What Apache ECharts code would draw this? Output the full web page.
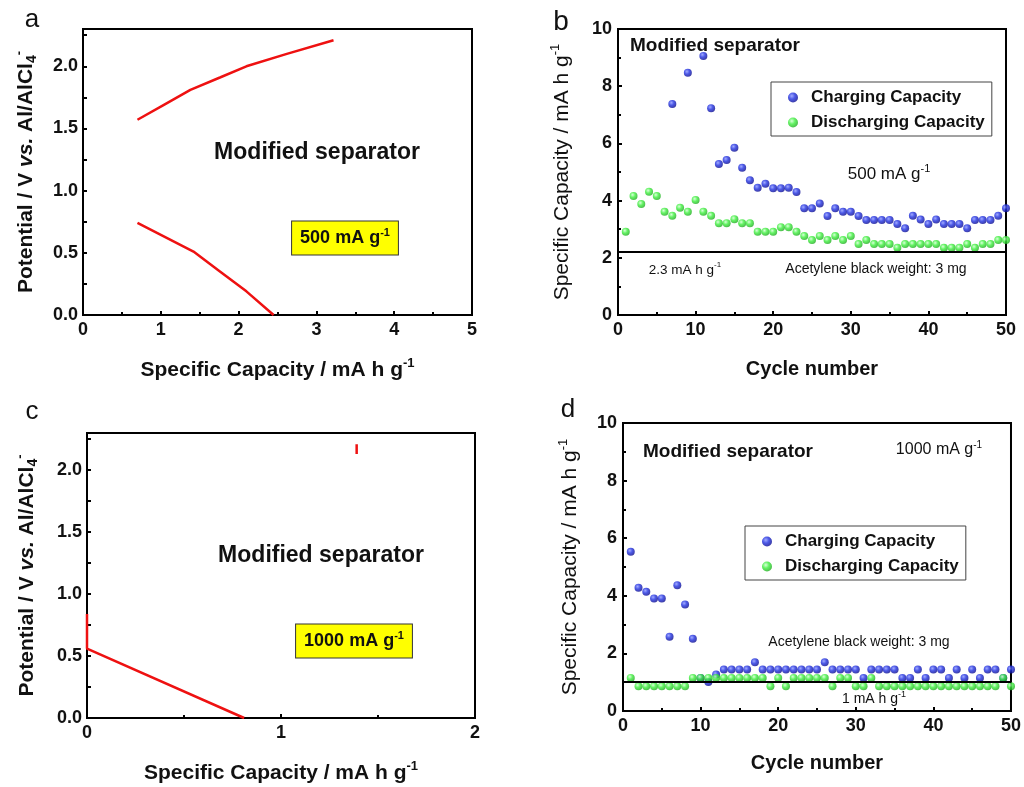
<!DOCTYPE html>
<html><head><meta charset="utf-8">
<script src="https://cdn.jsdelivr.net/npm/echarts@6/dist/echarts.min.js"></script>
<style>html,body{margin:0;padding:0;background:#fff}#c{width:1024px;height:787px}</style>
</head><body><div id="c"></div>
<script>
// ---- data ----
const chargeA = [[0.70,1.57],[1.04,1.69],[1.38,1.81],[1.76,1.91],[2.10,2.00],[2.62,2.10],[3.22,2.21]];
const dischargeA = [[0.70,0.74],[1.42,0.51],[1.76,0.35],[2.10,0.19],[2.45,0.00]];
const chargeC = [[1.39,2.21],[1.39,2.13]];
const dischargeC = [[0.00,0.84],[0.00,0.56],[0.81,0.00]];
const cycles = [1,2,3,4,5,6,7,8,9,10,11,12,13,14,15,16,17,18,19,20,21,22,23,24,25,26,27,28,29,30,31,32,33,34,35,36,37,38,39,40,41,42,43,44,45,46,47,48,49,50];
const chargeB = [null,null,null,null,null,null,7.38,null,8.47,null,9.06,7.23,5.28,5.42,5.85,5.15,4.71,4.45,4.59,4.43,4.43,4.45,4.30,3.73,3.73,3.90,3.46,3.73,3.61,3.61,3.46,3.32,3.32,3.32,3.32,3.18,3.03,3.47,3.34,3.18,3.34,3.18,3.18,3.18,3.03,3.32,3.32,3.32,3.47,3.73];
const dischargeB = [2.91,4.16,3.88,4.31,4.16,3.61,3.47,3.75,3.61,4.02,3.61,3.47,3.21,3.21,3.35,3.21,3.21,2.91,2.91,2.91,3.07,3.07,2.91,2.76,2.62,2.76,2.62,2.76,2.62,2.76,2.48,2.62,2.48,2.48,2.48,2.35,2.48,2.48,2.48,2.48,2.48,2.35,2.35,2.35,2.48,2.35,2.48,2.48,2.62,2.62];
const chargeD = [5.53,4.28,4.14,3.91,3.91,2.58,4.37,3.70,2.51,1.15,1.01,1.27,1.44,1.44,1.44,1.44,1.69,1.44,1.44,1.44,1.44,1.44,1.44,1.44,1.44,1.69,1.44,1.44,1.44,1.44,1.15,1.44,1.44,1.44,1.44,1.15,1.15,1.44,1.15,1.44,1.44,1.15,1.44,1.15,1.44,1.15,1.44,1.44,1.15,1.44];
const dischargeD = [1.15,0.86,0.86,0.86,0.86,0.86,0.86,0.86,1.15,1.15,1.15,1.15,1.15,1.15,1.15,1.15,1.15,1.15,0.86,1.15,0.86,1.15,1.15,1.15,1.15,1.15,0.86,1.15,1.15,0.86,0.86,1.15,0.86,0.86,0.86,0.86,0.86,0.86,0.86,0.86,0.86,0.86,0.86,0.86,0.86,0.86,0.86,0.86,1.15,0.86];
const refB = 2.2;
const refD = 1.0;
const legendNames = ['Charging Capacity','Discharging Capacity'];

// ---- chart ----
const FF = '"Liberation Sans", Arial, sans-serif';
const chart = echarts.init(document.getElementById('c'));
const pair = (xs, ys) => xs.map((x,i)=>[x, ys[i]]);

const blue = {type:'radial',x:0.38,y:0.35,r:0.7,colorStops:[{offset:0,color:'#8a95ff'},{offset:0.45,color:'#1f2fe0'},{offset:1,color:'#0a0a8a'}]};
const green = {type:'radial',x:0.38,y:0.35,r:0.7,colorStops:[{offset:0,color:'#d0ffd0'},{offset:0.45,color:'#3ef03e'},{offset:1,color:'#1ea81e'}]};

const nameStyle = (bold, size) => ({fontSize:size,fontWeight:bold?'bold':'normal',fontFamily:FF,color:'#111',lineHeight:size+5,
  rich:{sup:{fontSize:Math.round(size*0.6),fontWeight:bold?'bold':'normal',fontFamily:FF,verticalAlign:'top',lineHeight:size+5,color:'#111'},
        sub:{fontSize:Math.round(size*0.65),fontWeight:'bold',fontFamily:FF,verticalAlign:'bottom',lineHeight:size+5,color:'#111'},
        i:{fontSize:size,fontWeight:'bold',fontStyle:'italic',fontFamily:FF,lineHeight:size+5,color:'#111'}}});

const lbl = {fontSize:18,fontWeight:'bold',fontFamily:FF,color:'#111'};
const axLine = {show:true,onZero:false,lineStyle:{color:'#000',width:2}};
const tick = {show:true,inside:true,length:4,lineStyle:{color:'#000',width:2}};
const minor = {show:true,splitNumber:2,length:3,lineStyle:{color:'#000',width:2}};

function potentialY(idx, gap){
  return {type:'value',gridIndex:idx,min:0,max:2.3,interval:0.25,axisLine:axLine,axisTick:tick,splitLine:{show:false},
    axisLabel:{...lbl,margin:5,formatter:v=>{const k=Math.round(v*100);return (k%50===0)?(k/100).toFixed(1):'';}},
    name:'Potential / V {i|vs.} Al/AlCl{sub|4}{sup|-}',nameLocation:'middle',nameGap:gap,nameTextStyle:nameStyle(true,21)};
}
function capX(idx, max){
  return {type:'value',gridIndex:idx,min:0,max:max,interval:1,axisLine:axLine,axisTick:tick,minorTick:minor,splitLine:{show:false},
    axisLabel:{...lbl,margin:6},
    name:'Specific Capacity / mA h g{sup|-1}',nameLocation:'middle',nameGap:42,nameTextStyle:nameStyle(true,21)};
}
function cycX(idx, gap){
  return {type:'value',gridIndex:idx,min:0,max:50,interval:10,axisLine:axLine,axisTick:tick,minorTick:minor,splitLine:{show:false},
    axisLabel:{...lbl,margin:6},name:'Cycle number',nameLocation:'middle',nameGap:gap,nameTextStyle:nameStyle(true,20)};
}
function cycY(idx, gap){
  return {type:'value',gridIndex:idx,min:0,max:10,interval:2,axisLine:axLine,axisTick:tick,minorTick:minor,splitLine:{show:false},
    axisLabel:{...lbl,margin:6},name:'Specific Capacity / mA h g{sup|-1}',nameLocation:'middle',nameGap:gap,nameTextStyle:nameStyle(false,21)};
}
const redLine = {color:'#ee1111',width:2.5};
function scat(name, data, xi, color, z){
  return {type:'scatter',name:name,xAxisIndex:xi,yAxisIndex:xi,data:data,symbol:'circle',symbolSize:8,itemStyle:{color:color},z:z,silent:true};
}
function legendAt(left, top){
  return {data:legendNames,left:left,top:top,orient:'vertical',icon:'circle',itemWidth:10,itemHeight:10,itemGap:8,
    padding:[7,7,5,17],borderColor:'#444',borderWidth:1,selectedMode:false,
    textStyle:{fontSize:17,fontWeight:'bold',fontFamily:FF,color:'#111',padding:[0,0,0,8]}};
}
function txt(x,y,text,size,bold,extra){
  return {type:'text',x:x,y:y,z:100,style:Object.assign({text:text,font:(bold?'bold ':'')+size+'px '+FF,fill:'#111',align:'center',verticalAlign:'middle',
    rich:{sup:{fontSize:Math.round(size*0.62),fontWeight:bold?'bold':'normal',fontFamily:FF,verticalAlign:'top',lineHeight:size+4,fill:'#111'}}},extra||{})};
}

const option = {
  animation:false,
  backgroundColor:'#fff',
  grid:[
    {left:83,top:29,width:389,height:286,show:true,borderColor:'#000',borderWidth:2},
    {left:618,top:29,width:388,height:286,show:true,borderColor:'#000',borderWidth:2},
    {left:87,top:433,width:388,height:286,show:true,borderColor:'#000',borderWidth:2},
    {left:623,top:423,width:389,height:288,show:true,borderColor:'#000',borderWidth:2}
  ],
  xAxis:[capX(0,5), cycX(1,42), capX(2,2), cycX(3,40)],
  yAxis:[potentialY(0,44), cycY(1,43), potentialY(2,47), cycY(3,40)],
  legend:[legendAt(771,82), legendAt(745,526)],
  series:[
    {type:'line',xAxisIndex:0,yAxisIndex:0,data:chargeA,showSymbol:false,lineStyle:redLine},
    {type:'line',xAxisIndex:0,yAxisIndex:0,data:dischargeA,showSymbol:false,lineStyle:redLine},
    scat('Charging Capacity',pair(cycles,chargeB),1,blue,3),
    scat('Discharging Capacity',pair(cycles,dischargeB),1,green,4),
    {type:'line',xAxisIndex:1,yAxisIndex:1,data:[],markLine:{silent:true,symbol:'none',label:{show:false},lineStyle:{color:'#000',width:2,type:'solid'},data:[{yAxis:refB}]}},
    {type:'line',xAxisIndex:2,yAxisIndex:2,data:chargeC,showSymbol:false,lineStyle:redLine},
    {type:'line',xAxisIndex:2,yAxisIndex:2,data:dischargeC,showSymbol:false,lineStyle:redLine},
    scat('Charging Capacity',pair(cycles,chargeD),3,blue,3),
    scat('Discharging Capacity',pair(cycles,dischargeD),3,green,4),
    {type:'line',xAxisIndex:3,yAxisIndex:3,data:[],z:5,markLine:{silent:true,symbol:'none',label:{show:false},lineStyle:{color:'#000',width:2,type:'solid'},data:[{yAxis:refD}]}}
  ],
  graphic:[
    txt(32,20,'a',26,false),
    txt(561,22,'b',28,false),
    txt(32,412,'c',26,false),
    txt(568,410,'d',26,false),
    txt(317,153,'Modified separator',23,true),
    txt(345,238,'500 mA g{sup|-1}',18,true,{backgroundColor:'#ffff00',borderColor:'#333',borderWidth:1,padding:[6,8,5,8]}),
    txt(321,556,'Modified separator',23,true),
    txt(354,641,'1000 mA g{sup|-1}',18,true,{backgroundColor:'#ffff00',borderColor:'#333',borderWidth:1,padding:[6,8,5,8]}),
    txt(715,46,'Modified separator',19,true),
    txt(889,174,'500 mA g{sup|-1}',17,false),
    txt(685,270,'2.3 mA h g{sup|-1}',13.5,false),
    txt(876,269,'Acetylene black weight: 3 mg',14,false),
    txt(728,452,'Modified separator',19,true),
    txt(939,450,'1000 mA g{sup|-1}',16,false),
    txt(859,642,'Acetylene black weight: 3 mg',14,false),
    txt(874,699,'1 mA h g{sup|-1}',14,false)
  ]
};
chart.setOption(option);
</script></body></html>
